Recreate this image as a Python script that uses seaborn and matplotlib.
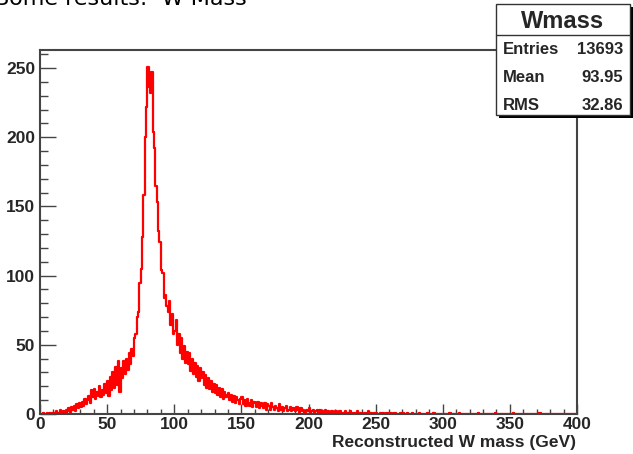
import numpy as np
import pandas as pd
import matplotlib
matplotlib.use("Agg")
import matplotlib.pyplot as plt
import seaborn as sns
from matplotlib.ticker import MultipleLocator
from matplotlib.patches import Rectangle
from matplotlib.lines import Line2D

# ---- data: counts per 1 GeV bin, 0..400 GeV ----
counts = [
    0, 0, 1, 0, 0, 1, 0, 1, 0, 1,            # 0
    1, 0, 2, 0, 1, 3, 1, 2, 0, 3,            # 10
    2, 4, 1, 5, 3, 6, 2, 7, 4, 8,            # 20
    5, 9, 6, 11, 7, 10, 13, 8, 17, 12,       # 30
    18, 11, 16, 13, 20, 12, 17, 14, 22, 15,  # 40
    24, 13, 27, 17, 30, 19, 34, 21, 38, 16,  # 50
    33, 26, 38, 29, 40, 32, 44, 36, 47, 42,  # 60
    55, 58, 70, 74, 95, 105, 128, 158, 200, 222,  # 70
    251, 236, 232, 247, 204, 192, 165, 153, 132, 124,  # 80
    104, 102, 84, 86, 78, 74, 82, 64, 72, 58,  # 90
    60, 68, 50, 58, 44, 55, 40, 49, 37, 45,  # 100
    36, 44, 31, 40, 29, 37, 27, 35, 24, 33,  # 110
    26, 30, 21, 28, 19, 26, 18, 24, 16, 22,  # 120
    15, 21, 14, 19, 12, 18, 11, 16, 12, 14,  # 130
    15, 10, 14, 9, 13, 8, 12, 10, 7, 11,     # 140
    12, 7, 10, 6, 11, 8, 6, 10, 5, 9,        # 150
    8, 5, 9, 4, 8, 6, 4, 8, 3, 7,            # 160
    6, 3, 8, 5, 3, 6, 4, 2, 7, 3,            # 170
    5, 2, 4, 6, 2, 3, 5, 2, 4, 3,            # 180
    2, 5, 3, 1, 4, 2, 3, 1, 3, 2,            # 190
    4, 1, 2, 3, 1, 2, 3, 0, 3, 1,            # 200
    2, 1, 3, 0, 2, 1, 0, 2, 1, 1,            # 210
    2, 0, 1, 2, 1, 0, 1, 2, 0, 1,            # 220
    1, 2, 0, 1, 1, 0, 2, 0, 1, 1,            # 230
    0, 1, 1, 0, 2, 0, 1, 0, 0, 1,            # 240
    1, 0, 0, 1, 0, 1, 0, 0, 1, 0,            # 250
    0, 1, 0, 0, 1, 0, 0, 0, 1, 0,            # 260
    1, 0, 0, 1, 0, 0, 0, 1, 0, 0,            # 270
    0, 0, 1, 0, 0, 0, 0, 0, 1, 0,            # 280
    0, 0, 0, 1, 0, 0, 0, 0, 0, 0,            # 290
    0, 0, 0, 0, 0, 1, 0, 0, 0, 0,            # 300
    0, 0, 1, 0, 0, 0, 0, 0, 0, 0,            # 310
    0, 0, 0, 0, 0, 0, 1, 0, 0, 0,            # 320
    0, 0, 0, 0, 0, 0, 0, 0, 0, 1,            # 330
    0, 0, 0, 0, 0, 0, 0, 0, 0, 0,            # 340
    0, 0, 1, 0, 0, 0, 0, 0, 0, 0,            # 350
    0, 0, 0, 0, 0, 0, 0, 0, 0, 0,            # 360
    0, 0, 1, 0, 0, 0, 0, 0, 0, 0,            # 370
    0, 0, 0, 0, 0, 0, 0, 0, 0, 0,            # 380
    0, 0, 0, 0, 0, 0, 0, 0, 0, 0,            # 390
]
bin_width = 1.0
x_ticks = [0, 50, 100, 150, 200, 250, 300, 350, 400]
y_ticks = [0, 50, 100, 150, 200, 250]
stat_names = ["Entries", "Mean", "RMS"]
stat_values = ["13693", "93.95", "32.86"]
hist_name = "Wmass"
x_label = "Reconstructed W mass (GeV)"
slide_title = "Some results:  W Mass"

W, H = 633, 454

sns.set_style("white")
plt.rcParams['font.family'] = ['Liberation Sans', 'DejaVu Sans']

fig = plt.figure(figsize=(W / 100, H / 100), dpi=100)
ax = fig.add_axes([40 / W, 40 / H, 537 / W, 364 / H])

centers = np.arange(len(counts)) * bin_width + bin_width / 2
df = pd.DataFrame({"mass": centers, "n": counts})
sns.histplot(data=df, x="mass", weights="n", binwidth=bin_width,
             binrange=(0, len(counts) * bin_width), element="step",
             fill=False, color="#ff0000", linewidth=1.6, ax=ax)

ax.set_xlim(0, 400)
ax.set_ylim(0, 263)
ax.set_xlabel("")
ax.set_ylabel("")
ax.set_xticks(x_ticks)
ax.set_yticks(y_ticks)
ax.xaxis.set_minor_locator(MultipleLocator(10))
ax.yaxis.set_minor_locator(MultipleLocator(10))
frame_col = "#444444"
for s in ax.spines.values():
    s.set_color(frame_col)
    s.set_linewidth(1.5)
    s.set_visible(True)
ax.tick_params(axis="x", which="major", direction="in", length=7.5, width=1.0,
               color=frame_col, labelsize=12.5, pad=2)
ax.tick_params(axis="x", which="minor", direction="in", length=3.8, width=1.0,
               color=frame_col)
ax.tick_params(axis="y", which="major", direction="in", length=11.5, width=1.0,
               color=frame_col, labelsize=12.5, pad=3.5)
ax.tick_params(axis="y", which="minor", direction="in", length=6, width=1.0,
               color=frame_col)
ax.tick_params(bottom=True, left=True, top=False, right=False, which="both")
for lab in ax.get_xticklabels() + ax.get_yticklabels():
    lab.set_fontweight("bold")

def fx(x):
    return x / W

def fy(y):
    return 1 - y / H

fig.text(fx(576), fy(442), x_label, ha="right", va="center",
         fontsize=12.5, fontweight="bold")

# slide title, cut at top
fig.text(fx(247), fy(5), slide_title, ha="right", va="baseline",
         fontsize=16, family=["DejaVu Sans"], color="black")

# stats box
shadow = Rectangle((fx(499), fy(118)), (633 - 499) / W, (118 - 7) / H,
                   transform=fig.transFigure, facecolor="black",
                   edgecolor="none", zorder=10)
box = Rectangle((fx(496), fy(115)), (630 - 496) / W, (115 - 4) / H,
                transform=fig.transFigure, facecolor="white",
                edgecolor="#333333", linewidth=1.0, zorder=11)
fig.add_artist(shadow)
fig.add_artist(box)
fig.add_artist(Line2D([fx(496), fx(630)], [fy(35), fy(35)],
                      transform=fig.transFigure, color="#333333",
                      linewidth=1.0, zorder=12))
fig.text(fx(563), fy(21), hist_name, ha="center", va="center",
         fontsize=17, fontweight="bold", zorder=13)
row_y = [50, 78, 105]
for name, val, yy in zip(stat_names, stat_values, row_y):
    fig.text(fx(503), fy(yy), name, ha="left", va="center",
             fontsize=12, fontweight="bold", zorder=13)
    fig.text(fx(623), fy(yy), val, ha="right", va="center",
             fontsize=12, fontweight="bold", zorder=13)

fig.savefig("out.png", dpi=100)
